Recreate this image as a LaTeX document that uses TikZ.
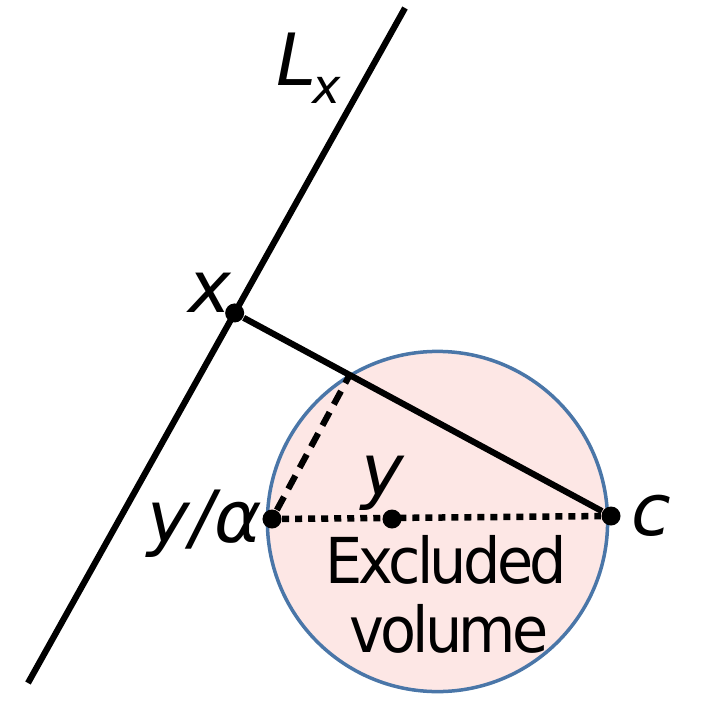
\documentclass[tikz,border=0pt]{standalone}
\usepackage{fontspec}
\setmainfont{DejaVu Sans}
\newfontfamily\condfont{DejaVu Sans}[FakeStretch=0.93, LetterSpace=-6]
\usetikzlibrary{positioning, calc}
\definecolor{volfill}{HTML}{FDE7E5}
\definecolor{voledge}{HTML}{4A76A8}
\tikzset{
	point/.style={
		fill,
		circle,
		inner sep=0pt,
		minimum size=0.19cm
	},
	lbl/.style={
		inner sep=0pt,
		font=\fontsize{20.5}{24}\selectfont\itshape
	},
	volume/.style={
		draw=voledge,
		fill=volfill,
		circle,
		line width=0.035cm,
		minimum size=3.4cm
	},
	voltext/.style={
		inner sep=0pt,
		font=\condfont\fontsize{18}{20}\selectfont
	},
	line/.style={line width=0.062cm},
	dotline/.style={line width=0.065cm, dash pattern=on 0.07cm off 0.06cm},
	dashline/.style={line width=0.062cm, dash pattern=on 0.15cm off 0.09cm}
}

\begin{document}
\begin{tikzpicture}[x=0.01cm, y=-0.01cm]
	\useasboundingbox (0,0) rectangle (709,709);

	% excluded volume
	\node[volume] (vol) at (437.5,521.5) {};
	\node[voltext, anchor=base] (excl) at (446,583) {Excluded};
	\node[voltext, anchor=base] (volm) at (449,652) {volume};

	% the line L_x and the points
	\coordinate (top) at (405,8);
	\coordinate (bot) at (28,683);
	\node[point] (x) at ($(top)!0.4518!(bot)$) {};
	\node[point] (ya) at (272,519) {};
	\node[point] (y) at (392,519) {};
	\node[point] (c) at (611,516) {};
	\coordinate (foot) at ($(x)!(ya)!(c)$);

	\draw[line] (top) -- (bot);
	\draw[line] (x) -- (c);
	\draw[dotline] (ya) -- (c);
	\draw[dashline] (ya) -- (foot);

	% labels
	\node[lbl, anchor=base west] (lxlbl) at (276,85) {L\kern-0.04cm\raisebox{-0.18cm}{\fontsize{13.6}{16}\selectfont x}};
	\node[lbl, anchor=base west] (xlbl) at (188,312) {x};
	\node[lbl, anchor=base] (ylbl) at (383,495) {y};
	\node[lbl, anchor=base west] (yalbl) at (147,542) {y/α};
	\node[lbl, anchor=base west] (clbl) at (631,535) {c};
\end{tikzpicture}
\end{document}
